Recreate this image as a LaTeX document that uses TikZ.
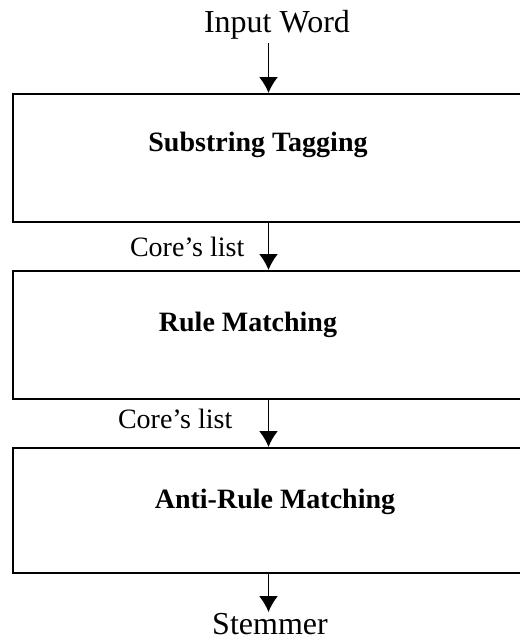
\documentclass[tikz,border=0pt]{standalone}
\usepackage{fontspec}
\setmainfont{Liberation Serif}
\usepackage{tikz}
\usetikzlibrary{arrows.meta}
\newcommand{\stagebox}[5]{
	\node [draw, line width=2pt, minimum width=512pt, minimum height=#3, inner sep=0pt] (#1) at (#2) {};
	\node [font=\fontsize{28}{32}\selectfont\bfseries] (#1text) at (#4) {#5};}

\begin{document}
\begin{tikzpicture}[x=1pt,y=-1pt,>={Latex[length=16pt,width=19pt]},
	flow/.style={->,line width=1.6pt},
	plain/.style={font=\fontsize{32}{36}\selectfont},
	side/.style={font=\fontsize{28}{32}\selectfont}]
	\useasboundingbox (0,0) rectangle (519,642);
	\node [plain] (input) at (277,25) {Input Word};
	\stagebox{s1}{268.5,158}{128pt}{258,145}{Substring Tagging}
	\stagebox{s2}{268.5,335}{128pt}{248,325}{Rule Matching}
	\stagebox{s3}{268.5,510.5}{125pt}{275,502}{Anti-Rule Matching}
	\node [plain, inner sep=1pt] (stem) at (270,624) {Stemmer};
	\draw [flow] (s1.north |- input.south) -- (s1.north);
	\draw [flow] (s1.south) -- node [side, left=20pt] {Core's list} (s2.north);
	\draw [flow] (s2.south) -- node [side, pos=0.4, left=32pt] {Core's list} (s3.north);
	\draw [flow] (s3.south) -- (s3.south |- stem.north);
\end{tikzpicture}
\end{document}
